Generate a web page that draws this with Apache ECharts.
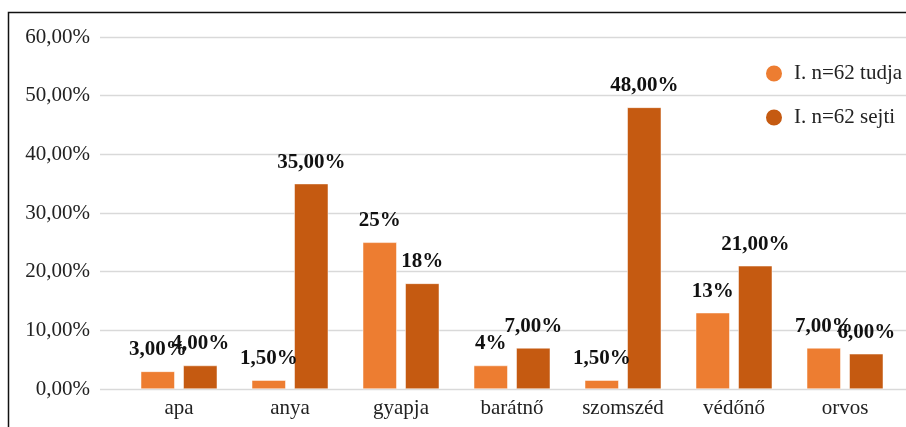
<!DOCTYPE html>
<html>

<head>
    <meta charset="utf-8" />
    <script src="https://cdn.jsdelivr.net/npm/echarts@6/dist/echarts.min.js"></script>
    <style>
        html, body { margin: 0; padding: 0; background: #fff; }
    </style>
</head>

<body>
    <div id="main" style="width: 906px; height: 427px;"></div>
    <script type="text/javascript">
        // adatok
        var categories = ['apa', 'anya', 'gyapja', 'barátnő', 'szomszéd', 'védőnő', 'orvos'];
        var seriesNames = ['I. n=62 tudja', 'I. n=62 sejti'];
        var tudja = [3, 1.5, 25, 4, 1.5, 13, 7];
        var sejti = [4, 35, 18, 7, 48, 21, 6];
        var tudjaLabels = ['3,00%', '1,50%', '25%', '4%', '1,50%', '13%', '7,00%'];
        var sejtiLabels = ['4,00%', '35,00%', '18%', '7,00%', '48,00%', '21,00%', '6,00%'];

        var font = '"Liberation Serif", "Times New Roman", serif';
        var myChart = echarts.init(document.getElementById('main'));

        function barLabel(texts) {
            return {
                show: true,
                position: 'top',
                distance: 11,
                fontFamily: font,
                fontSize: 21,
                fontWeight: 'bold',
                color: '#111',
                formatter: function (p) { return texts[p.dataIndex]; }
            };
        }

        var option = {
            animation: false,
            graphic: [{
                type: 'rect',
                shape: { x: 8.5, y: 12.5, width: 1200, height: 1200 },
                style: { fill: 'none', stroke: '#111', lineWidth: 1.5 },
                silent: true
            }],
            grid: [
                { left: 100, right: 0, top: 37, bottom: 38 },
                { left: 123.5, right: 5.5, top: 37, bottom: 38 }
            ],
            legend: {
                orient: 'vertical',
                left: 759,
                top: 58,
                icon: 'circle',
                itemWidth: 18,
                itemHeight: 18,
                itemGap: 23,
                data: seriesNames,
                textStyle: {
                    fontFamily: font,
                    fontSize: 21,
                    lineHeight: 18,
                    color: '#222',
                    padding: [0, 0, 0, 6]
                }
            },
            xAxis: [
                { type: 'category', gridIndex: 0, show: false, data: categories },
                {
                    type: 'category',
                    gridIndex: 1,
                    data: categories,
                    axisLine: { show: false },
                    axisTick: { show: false },
                    axisLabel: { fontFamily: font, fontSize: 21, color: '#222', margin: 9 }
                }
            ],
            yAxis: [
                {
                    type: 'value',
                    gridIndex: 0,
                    min: 0,
                    max: 60,
                    interval: 10,
                    axisLine: { show: false },
                    axisTick: { show: false },
                    splitLine: { lineStyle: { color: '#d9d9d9', width: 1.3 } },
                    axisLabel: {
                        fontFamily: font,
                        fontSize: 21,
                        color: '#222',
                        margin: 10,
                        formatter: function (v) { return v.toFixed(2).replace('.', ',') + '%'; }
                    }
                },
                { type: 'value', gridIndex: 1, min: 0, max: 60, interval: 10, show: false, splitLine: { show: false } }
            ],
            series: [
                {
                    name: seriesNames[0],
                    type: 'bar',
                    xAxisIndex: 1,
                    yAxisIndex: 1,
                    barWidth: 34,
                    barGap: '25%',
                    data: tudja,
                    itemStyle: { color: '#ED7D31', borderColor: '#fff', borderWidth: 0.5 },
                    label: barLabel(tudjaLabels)
                },
                {
                    name: seriesNames[1],
                    type: 'bar',
                    xAxisIndex: 1,
                    yAxisIndex: 1,
                    barWidth: 34,
                    data: sejti,
                    itemStyle: { color: '#C55A11', borderColor: '#fff', borderWidth: 0.5 },
                    label: barLabel(sejtiLabels)
                }
            ]
        };

        myChart.setOption(option);
    </script>
</body>

</html>
